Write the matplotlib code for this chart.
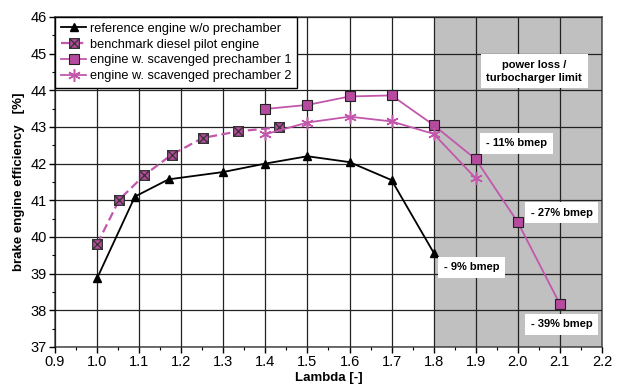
import matplotlib
matplotlib.use("Agg")
import matplotlib.pyplot as plt
from matplotlib.path import Path
from matplotlib.ticker import MultipleLocator, FormatStrFormatter

plt.rcParams['font.family'] = ['Liberation Sans', 'DejaVu Sans']

# reference engine w/o prechamber
lam_ref = [1.0, 1.09, 1.17, 1.3, 1.4, 1.5, 1.6, 1.7, 1.8]
eff_ref = [38.87, 41.1, 41.57, 41.77, 42.0, 42.2, 42.04, 41.55, 39.57]

# benchmark diesel pilot engine
lam_bench = [1.0, 1.053, 1.112, 1.177, 1.251, 1.336, 1.433]
eff_bench = [39.8, 41.02, 41.68, 42.24, 42.7, 42.88, 42.99]

# engine w. scavenged prechamber 1
lam_pc1 = [1.4, 1.5, 1.6, 1.7, 1.8, 1.9, 2.0, 2.1]
eff_pc1 = [43.49, 43.6, 43.83, 43.86, 43.05, 42.12, 40.4, 38.17]

# engine w. scavenged prechamber 2
lam_pc2 = [1.4, 1.5, 1.6, 1.7, 1.8, 1.9]
eff_pc2 = [42.8, 43.12, 43.28, 43.15, 42.81, 41.6]

labels = ["reference engine w/o prechamber",
          "benchmark diesel pilot engine",
          "engine w. scavenged prechamber 1",
          "engine w. scavenged prechamber 2"]

# bmep notes (x, y, text)
notes = [(1.89, 39.17, "- 9% bmep"),
         (1.997, 42.55, "- 11% bmep"),
         (2.104, 40.66, "- 27% bmep"),
         (2.104, 37.62, "- 39% bmep")]

pink = '#C257AC'
pink_fill = '#B64A9E'

# square with a cross inside
box_x = Path([(-1, -1), (1, -1), (1, 1), (-1, 1), (-1, -1),
              (-1, -1), (1, 1), (-1, 1), (1, -1)],
             [Path.MOVETO, Path.LINETO, Path.LINETO, Path.LINETO, Path.CLOSEPOLY,
              Path.MOVETO, Path.LINETO, Path.MOVETO, Path.LINETO])

fig = plt.figure(figsize=(6.18, 3.85), dpi=100)
ax = fig.add_axes([0.089, 0.099, 0.885, 0.857])

ax.axvspan(1.8, 2.2, color='#C0C0C0', zorder=0, lw=0)

ax.plot(lam_ref, eff_ref, color='black', lw=1.3, marker='^', ms=6,
        mfc='black', mec='black', label=labels[0], zorder=3)
ax.plot(lam_bench, eff_bench, color=pink, lw=1.6, ls=(0, (4, 2)), marker=box_x,
        ms=7, mfc=pink_fill, mec='#333333', mew=0.9, label=labels[1], zorder=3)
ax.plot(lam_pc1, eff_pc1, color=pink, lw=1.3, marker='s', ms=6.5,
        mfc=pink_fill, mec='#222222', mew=0.8, label=labels[2], zorder=3)
ax.plot(lam_pc2, eff_pc2, color=pink, lw=1.3, marker=(6, 2, 0), ms=9,
        mec=pink, mew=1.1, label=labels[3], zorder=3)

ax.set_xlim(0.9, 2.2)
ax.set_ylim(37, 46)
ax.xaxis.set_major_locator(MultipleLocator(0.1))
ax.xaxis.set_minor_locator(MultipleLocator(0.05))
ax.yaxis.set_major_locator(MultipleLocator(1))
ax.yaxis.set_minor_locator(MultipleLocator(0.5))
ax.xaxis.set_major_formatter(FormatStrFormatter('%.1f'))
ax.tick_params(which='major', direction='out', length=4, labelsize=10.5, width=1, pad=2)
ax.tick_params(which='minor', direction='out', length=2.5, width=0.8)
ax.grid(True, which='major', color='#222222', lw=0.9, zorder=1)
ax.set_axisbelow(False)
for s in ax.spines.values():
    s.set_color('#555555')
    s.set_linewidth(1.2)

ax.set_xlabel("Lambda [-]", fontsize=9.5, fontweight='bold', labelpad=2)
ax.set_ylabel("brake engine efficiency   [%]", fontsize=9.5, fontweight='bold', labelpad=4)

box = dict(facecolor='white', edgecolor='none', pad=4)
ax.text(2.039, 44.52, "power loss /\nturbocharger limit", ha='center', va='center',
        fontsize=8, fontweight='bold', bbox=box, zorder=4, linespacing=1.4)
for x, y, t in notes:
    ax.text(x, y, t, ha='center', va='center', fontsize=8, fontweight='bold',
            bbox=box, zorder=4)

leg = ax.legend(loc='upper left', borderaxespad=0, fontsize=9.2, fancybox=False,
                framealpha=1, edgecolor='black', handlelength=2.0,
                labelspacing=0.3, handletextpad=0.3, borderpad=0.45)
leg.get_frame().set_linewidth(1.0)
leg.set_zorder(5)

fig.savefig("out.png", dpi=100)
